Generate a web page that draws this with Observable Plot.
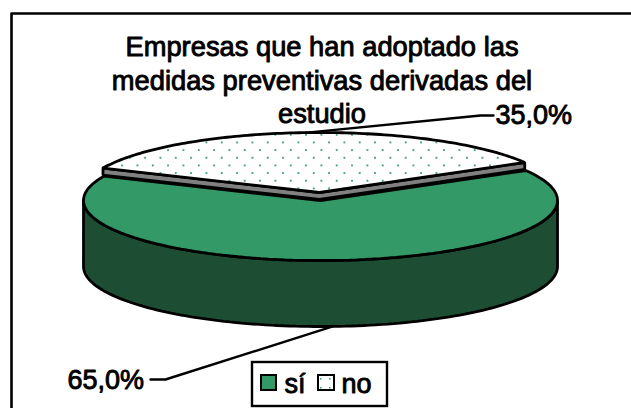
<!DOCTYPE html>
<html><head><meta charset="utf-8">
<script src="https://cdn.jsdelivr.net/npm/d3@7"></script>
<script src="https://cdn.jsdelivr.net/npm/@observablehq/plot@0.6"></script>
<style>html,body{margin:0;padding:0;background:#fff;overflow:hidden}svg{display:block}</style>
</head><body><div id="chart"></div>
<script>
const titleLines = ["Empresas que han adoptado las", "medidas preventivas derivadas del", "estudio"];
const categories = ["sí", "no"];
const percentages = [65.0, 35.0];

const W = 631, H = 408;
const green = "#339966", darkGreen = "#1d4d33", wall = "#808080";
const cx = 320, cy = 200, rx = 237, ry = 60, depth = 66;
const nCx = 319, nCy = 192, nRy = 60, gap = 7;
const total = d3.sum(percentages);
const noMid = 93;                       // mid-angle of the "no" slice, degrees
const noSpan = percentages[1] / total * 360;
const a0 = noMid - noSpan / 2, a1 = noMid + noSpan / 2;
const rad = d => d * Math.PI / 180;
const pt = (x, y, a, rX, rY) => [x + rX * Math.cos(rad(a)), y - rY * Math.sin(rad(a))];
const arc = (from, to, f) => d3.range(0, 121).map(i => f(from + (to - from) * i / 120));

const siArc = arc(a1, a0 + 360, a => pt(cx, cy, a, rx, ry));
const siPoly = [[cx, cy], ...siArc, [cx, cy]];
const sideTop = arc(180, 360, a => pt(cx, cy, a, rx, ry));
const sideBottom = arc(360, 180, a => pt(cx, cy + depth, a, rx, ry));
const sidePoly = [...sideTop, ...sideBottom, sideTop[0]];
const noArc = arc(a0, a1, a => pt(nCx, nCy, a, rx, nRy));
const noPoly = [[nCx, nCy], ...noArc, [nCx, nCy]];
const wallPoly = [noArc[120], [nCx, nCy], noArc[0], [noArc[0][0], noArc[0][1] + gap], [nCx, nCy + gap], [noArc[120][0], noArc[120][1] + gap], noArc[120]];

const noTip = pt(nCx, nCy, noMid, rx, nRy);
const siTip = pt(cx, cy + depth, noMid + 180, rx, ry);
const fmt = v => v.toFixed(1).replace(".", ",") + "%";
const lw = 2.8;
const poly = (p, fill, sw = lw) => Plot.line(p, {x: d => d[0], y: d => d[1], fill, stroke: "#000", strokeWidth: sw, strokeLinejoin: "miter"});
const seg = p => Plot.line(p, {x: d => d[0], y: d => d[1], stroke: "#000", strokeWidth: 2.4});
const font = {fontFamily: "Liberation Sans", fill: "#000", stroke: "#000", strokeWidth: 0.9};

const plot = Plot.plot({
  width: W, height: H, margin: 0,
  x: {domain: [0, W], range: [0, W], axis: null},
  y: {domain: [0, H], range: [0, H], axis: null},
  marks: [
    Plot.line([[11, H], [11, 13], [W, 13]], {x: d => d[0], y: d => d[1], stroke: "#000", strokeWidth: 2.6}),
    poly(sidePoly, darkGreen),
    poly(siPoly, green),
    poly(wallPoly, wall),
    poly(noPoly, "url(#dots)"),
    seg([noTip, [480, 115], [493, 115]]),
    seg([siTip, [165, 379], [150, 379]]),
    Plot.text(titleLines, {x: () => 321.5, y: (d, i) => 47 + i * 33.5, text: d => d, fontSize: 27.3, ...font}),
    Plot.text([fmt(percentages[1])], {x: () => 495, y: () => 115, text: d => d, textAnchor: "start", fontSize: 27, ...font}),
    Plot.text([fmt(percentages[0])], {x: () => 67, y: () => 380, text: d => d, textAnchor: "start", fontSize: 27, ...font}),
    Plot.rect([0], {x1: () => 252, x2: () => 387, y1: () => 362, y2: () => 406, fill: "#fff", stroke: "#000", strokeWidth: 2.4}),
    Plot.rect([0], {x1: () => 261, x2: () => 276, y1: () => 375, y2: () => 390, fill: green, stroke: "#000", strokeWidth: 2}),
    Plot.rect([0], {x1: () => 318, x2: () => 334, y1: () => 375, y2: () => 390, fill: "url(#dotsLegend)", stroke: "#000", strokeWidth: 2}),
    Plot.text([categories[0]], {x: () => 284, y: () => 384, text: d => d, textAnchor: "start", fontSize: 27, ...font}),
    Plot.text([categories[1]], {x: () => 341, y: () => 384, text: d => d, textAnchor: "start", fontSize: 27, ...font})
  ]
});
const defs = d3.select(plot).insert("defs", ":first-child");
const pat = defs.append("pattern").attr("id", "dots").attr("patternUnits", "userSpaceOnUse")
  .attr("width", 15.33).attr("height", 15.33).attr("x", 205).attr("y", 141);
pat.append("rect").attr("width", 15.33).attr("height", 15.33).attr("fill", "#fff");
pat.append("rect").attr("width", 1.8).attr("height", 1.8).attr("fill", green);
pat.append("rect").attr("x", 7.67).attr("y", 7.67).attr("width", 1.8).attr("height", 1.8).attr("fill", green);
const pat2 = defs.append("pattern").attr("id", "dotsLegend").attr("patternUnits", "userSpaceOnUse")
  .attr("width", 9).attr("height", 9).attr("x", 320).attr("y", 378);
pat2.append("rect").attr("width", 9).attr("height", 9).attr("fill", "#fff");
pat2.append("rect").attr("width", 1.5).attr("height", 1.5).attr("fill", green);
document.getElementById("chart").append(plot);
</script></body></html>
